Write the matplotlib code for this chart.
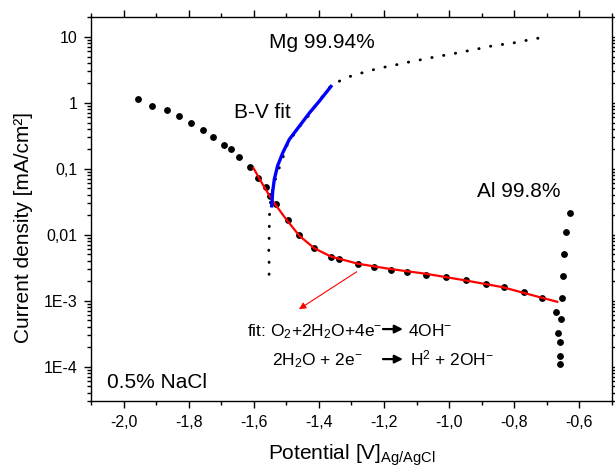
import matplotlib
matplotlib.use('Agg')
import matplotlib.pyplot as plt
from matplotlib.ticker import FixedLocator, FixedFormatter, MultipleLocator, FuncFormatter, LogLocator, NullFormatter

plt.rcParams['font.family'] = ['Liberation Sans', 'DejaVu Sans']
plt.rcParams['mathtext.fontset'] = 'custom'
plt.rcParams['mathtext.rm'] = 'Liberation Sans'
plt.rcParams['mathtext.it'] = 'Liberation Sans:italic'
plt.rcParams['mathtext.bf'] = 'Liberation Sans:bold'

# Al 99.8% measured points (big dots)
al_potential = [-1.955, -1.912, -1.867, -1.829, -1.794, -1.755, -1.724, -1.693, -1.670,
                -1.644, -1.613, -1.588, -1.562, -1.550, -1.532, -1.496, -1.460, -1.414,
                -1.363, -1.337, -1.281, -1.230, -1.179, -1.128, -1.071, -1.010, -0.949,
                -0.887, -0.831, -0.770, -0.714, -0.671, -0.655, -0.665, -0.659, -0.661,
                -0.660, -0.652, -0.650, -0.646, -0.640, -0.629]
al_current = [1.14, 0.90, 0.77, 0.625, 0.49, 0.384, 0.305, 0.228, 0.195,
              0.152, 0.107, 0.073, 0.052, 0.038, 0.0289, 0.0168, 0.0097, 0.0062,
              0.00464, 0.0042, 0.0036, 0.0032, 0.00295, 0.00275, 0.00248, 0.00227, 0.00202,
              0.0018, 0.0016, 0.00135, 0.00111, 6.7e-4, 5.2e-4, 3.2e-4, 2.4e-4, 1.46e-4,
              1.1e-4, 0.0011, 0.00234, 0.0051, 0.0108, 0.0209]

# Mg 99.94% measured curve (small dots)
mg_potential = [-1.553, -1.553, -1.554, -1.553, -1.552, -1.548, -1.540, -1.527, -1.510,
                -1.496, -1.465, -1.429, -1.404, -1.367, -1.331, -1.300, -1.258, -1.216,
                -1.169, -1.127, -1.090, -1.038, -0.996, -0.955, -0.913, -0.881, -0.840,
                -0.798, -0.756, -0.717]
mg_current = [0.0025, 0.0039, 0.0057, 0.0086, 0.0193, 0.035, 0.055, 0.087, 0.15,
              0.24, 0.40, 0.66, 1.0, 1.71, 2.21, 2.54, 2.92, 3.32,
              3.69, 4.09, 4.44, 4.99, 5.41, 5.93, 6.51, 7.06, 7.57,
              8.11, 8.91, 9.66]

# Butler-Volmer fit (blue)
bv_potential = [-1.545, -1.542, -1.537, -1.527, -1.511, -1.491, -1.460, -1.429, -1.399, -1.363]
bv_current = [0.0273, 0.045, 0.069, 0.11, 0.174, 0.277, 0.44, 0.70, 1.05, 1.76]

# cathodic fit (red)
fit_potential = [-1.601, -1.573, -1.542, -1.501, -1.460, -1.414, -1.363, -1.281, -1.184,
                 -1.071, -0.949, -0.836, -0.714, -0.668]
fit_current = [0.102, 0.058, 0.0324, 0.0172, 0.0096, 0.0062, 0.00465, 0.00363, 0.00303,
               0.00255, 0.00202, 0.0016, 0.0011, 0.00096]

y_ticks = [1e-4, 1e-3, 1e-2, 1e-1, 1, 10]
y_tick_labels = ['1E-4', '1E-3', '0,01', '0,1', '1', '10']

fig = plt.figure(figsize=(6.15, 4.73), dpi=100)
ax = fig.add_axes([0.148, 0.152, 0.847, 0.8125])

ax.plot(mg_potential, mg_current, color='black', lw=2.1, linestyle=(0, (0.1, 4.0)),
        dash_capstyle='round')
ax.plot(al_potential, al_current, linestyle='none', marker='o', ms=3.9, color='black')
ax.plot(fit_potential, fit_current, color='red', lw=1.6)
ax.plot(bv_potential, bv_current, color='blue', lw=2.4)

ax.set_yscale('log')
ax.set_xlim(-2.1, -0.5)
ax.set_ylim(3e-5, 20)

ax.xaxis.set_major_locator(MultipleLocator(0.2))
ax.xaxis.set_minor_locator(MultipleLocator(0.1))
ax.xaxis.set_major_formatter(FuncFormatter(lambda v, p: f"{v:.1f}".replace('.', ',')))
ax.yaxis.set_major_locator(FixedLocator(y_ticks))
ax.yaxis.set_major_formatter(FixedFormatter(y_tick_labels))
ax.yaxis.set_minor_locator(LogLocator(base=10, subs=range(2, 10), numticks=20))
ax.yaxis.set_minor_formatter(NullFormatter())

ax.tick_params(which='both', direction='out', top=True, right=True, width=1.0,
               labelsize=11.5)
ax.tick_params(which='major', length=5, pad=5)
ax.tick_params(which='minor', length=3)
for s in ax.spines.values():
    s.set_linewidth(1.0)

ax.set_xlabel(r'Potential [V]$_{\mathrm{Ag/AgCl}}$', fontsize=15)
ax.set_ylabel('Current density [mA/cm²]', fontsize=15, va='center')
ax.yaxis.set_label_coords(-0.1305, 0.4528)
ax.xaxis.set_label_coords(0.5, -0.108)

ax.text(0.3424, 0.920, 'Mg 99.94%', transform=ax.transAxes, fontsize=15, va='baseline')
ax.text(0.2745, 0.7356, 'B-V fit', transform=ax.transAxes, fontsize=15, va='baseline')
ax.text(0.7403, 0.5316, 'Al 99.8%', transform=ax.transAxes, fontsize=15, va='baseline')
ax.text(0.030, 0.033, '0.5% NaCl', transform=ax.transAxes, fontsize=15, va='baseline')

# reaction text
ax.text(0.5585, 0.1691, r'fit: O$_2$+2H$_2$O+4e$^{-}$', transform=ax.transAxes,
        fontsize=12.5, ha='right', va='baseline')
ax.text(0.6084, 0.1691, r'4OH$^{-}$', transform=ax.transAxes, fontsize=12.5,
        ha='left', va='baseline')
ax.text(0.5214, 0.0919, r'2H$_2$O + 2e$^{-}$', transform=ax.transAxes, fontsize=12.5,
        ha='right', va='baseline')
ax.text(0.6123, 0.0919, r'H$^{2}$ + 2OH$^{-}$', transform=ax.transAxes, fontsize=12.5,
        ha='left', va='baseline')
for yy in (0.1874, 0.1093):
    ax.annotate('', xy=(0.5988, yy), xytext=(0.5605, yy), xycoords='axes fraction',
                arrowprops=dict(arrowstyle='-|>', color='black', lw=1.6, mutation_scale=12,
                                shrinkA=0, shrinkB=0))

ax.annotate('', xy=(0.3992, 0.2391), xytext=(0.5100, 0.3365), xycoords='axes fraction',
            arrowprops=dict(arrowstyle='-|>', color='red', lw=0.8, mutation_scale=10,
                            shrinkA=0, shrinkB=0))

fig.savefig('out.png', dpi=100)
